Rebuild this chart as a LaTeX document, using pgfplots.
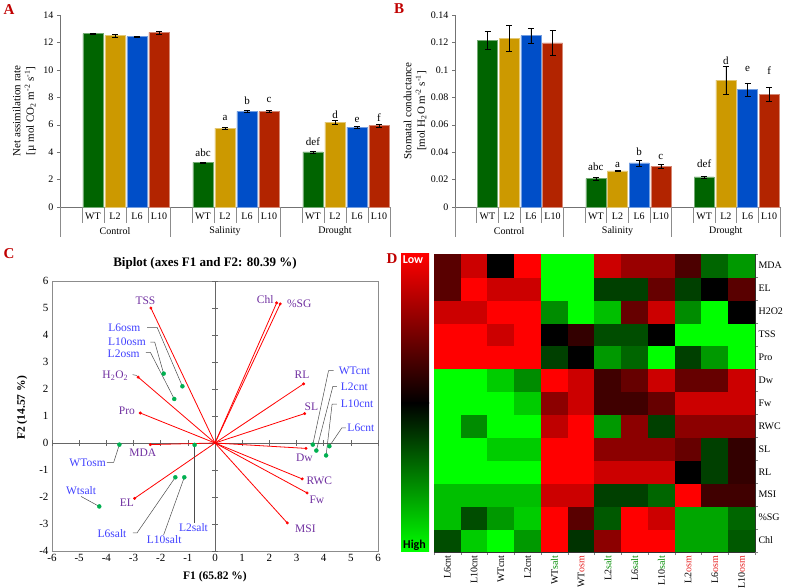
\documentclass[border=0pt]{standalone}
\usepackage{fontspec}
\setmainfont{Liberation Serif}
\newfontfamily\cbfont{Carlito}
\usepackage{pgfplots}
\usepackage{pgfplotstable}
\pgfplotsset{compat=1.18}

\definecolor{cwt}{RGB}{0,100,0}
\definecolor{cl2}{RGB}{204,153,0}
\definecolor{cl6}{RGB}{0,78,200}
\definecolor{cl10}{RGB}{178,36,0}
\definecolor{panel}{RGB}{192,0,0}
\definecolor{vpurple}{RGB}{112,48,160}
\definecolor{oblue}{RGB}{64,64,255}
\definecolor{ogreen}{RGB}{0,176,80}
\definecolor{lgreen}{RGB}{0,140,0}
\definecolor{lred}{RGB}{230,30,30}
\definecolor{hred}{RGB}{255,0,0}
\definecolor{hgreen}{RGB}{0,255,0}

\tikzset{
  lab/.style={font=\fontsize{10}{12}\selectfont, inner sep=0pt},
  let/.style={font=\fontsize{11}{13}\selectfont, inner sep=0pt},
  vl/.style={font=\fontsize{11.5}{13}\selectfont, text=vpurple, inner sep=0pt},
  ol/.style={font=\fontsize{11.5}{13}\selectfont, text=oblue, inner sep=0pt},
  ld/.style={black!70, line width=0.5pt},
  pl/.style={font=\bfseries\fontsize{15}{17}\selectfont, text=panel},
}

\pgfplotsset{
  barax/.style={scale only axis, anchor=south west, xmin=0, xmax=15,
    axis x line*=bottom, axis y line*=left, xtick=\empty,
    tick align=outside, major tick length=3pt,
    axis line style={black!55}, every tick/.append style={black!55},
    clip=false, tick label style={font=\fontsize{10}{12}\selectfont},
    /pgf/number format/assume math mode=true,
    ylabel style={align=center, font=\fontsize{11}{13.5}\selectfont, anchor=center}},
  gbar/.style={ybar, bar width=0.93, fill=#1, draw=#1!55!white, line width=0.5pt,
    error bars/y dir=both, error bars/y explicit,
    error bars/error bar style={black, line width=0.5pt},
    error bars/error mark options={rotate=90, black, mark size=3pt, line width=0.5pt}},
}

\newcommand\catlabels{%
  \pgfplotsinvokeforeach{1,2,3,4,6,7,8,9,11,12,13,14}{\draw[black!45] (axis cs:##1,0) -- ++(0pt,-16pt);}%
  \pgfplotsinvokeforeach{0,5,10,15}{\draw[black!45] (axis cs:##1,0) -- ++(0pt,-30pt);}%
  \pgfplotsinvokeforeach{1.5,6.5,11.5}{\node[lab] at ([yshift=-9.5pt]axis cs:##1,0) {WT};}%
  \pgfplotsinvokeforeach{2.5,7.5,12.5}{\node[lab] at ([yshift=-9.5pt]axis cs:##1,0) {L2};}%
  \pgfplotsinvokeforeach{3.5,8.5,13.5}{\node[lab] at ([yshift=-9.5pt]axis cs:##1,0) {L6};}%
  \pgfplotsinvokeforeach{4.5,9.5,14.5}{\node[lab] at ([yshift=-9.5pt]axis cs:##1,0) {L10};}%
  \node[lab] at ([yshift=-24pt]axis cs:2.5,0) {Control};%
  \node[lab] at ([yshift=-24pt]axis cs:7.5,0) {Salinity};%
  \node[lab] at ([yshift=-24pt]axis cs:12.5,0) {Drought};%
}

% biplot: variable vectors (F1, F2)
\pgfplotstableread{
fx fy
-2.36 5.00
2.27 5.19
2.40 5.15
-2.83 2.44
-2.75 1.11
-2.38 -0.06
-2.96 -2.05
3.26 2.19
3.30 1.09
3.35 -0.20
3.21 -1.33
3.39 -1.85
2.66 -2.96
}\vars

\begin{document}
\begin{tikzpicture}
\useasboundingbox (0pt,0pt) rectangle (787pt,588pt);

% ---------------- A ----------------
\begin{axis}[barax, at={(60pt,381pt)}, width=330pt, height=192pt,
  ymin=0, ymax=14, ytick={0,2,4,6,8,10,12,14},
  ylabel={Net assimilation rate\\{}[µ mol CO\textsubscript{2} m\textsuperscript{-2} s\textsuperscript{-1}]},
  ylabel style={at={(axis description cs:-0.1076,0.5)}}]
\addplot[gbar=cwt] coordinates {(1.5,12.65) +- (0,0.05) (6.5,3.25) +- (0,0.03) (11.5,4.02) +- (0,0.07)};
\addplot[gbar=cl2] coordinates {(2.5,12.50) +- (0,0.12) (7.5,5.75) +- (0,0.08) (12.5,6.18) +- (0,0.15)};
\addplot[gbar=cl6] coordinates {(3.5,12.42) +- (0,0.03) (8.5,6.98) +- (0,0.08) (13.5,5.82) +- (0,0.05)};
\addplot[gbar=cl10] coordinates {(4.5,12.73) +- (0,0.12) (9.5,6.96) +- (0,0.08) (14.5,5.94) +- (0,0.10)};
\node[let] at (axis cs:6.5,3.93) {abc};
\node[let] at (axis cs:7.5,6.48) {a};
\node[let] at (axis cs:8.5,7.77) {b};
\node[let] at (axis cs:9.5,7.77) {c};
\node[let] at (axis cs:11.5,4.78) {def};
\node[let] at (axis cs:12.5,6.72) {d};
\node[let] at (axis cs:13.5,6.36) {e};
\node[let] at (axis cs:14.5,6.48) {f};
\catlabels
\end{axis}

% ---------------- B ----------------
\begin{axis}[barax, at={(455pt,381pt)}, width=325pt, height=192pt,
  ymin=0, ymax=0.14, ytick={0,0.02,0.04,0.06,0.08,0.1,0.12,0.14},
  scaled y ticks=false,
  yticklabel style={/pgf/number format/fixed, /pgf/number format/precision=2},
  ylabel={Stomatal conductance\\{}[mol H\textsubscript{2}O m\textsuperscript{-2} s\textsuperscript{-1}]},
  ylabel style={at={(axis description cs:-0.123,0.5)}}]
\addplot[gbar=cwt] coordinates {(1.5,0.1213) +- (0,0.0066) (6.5,0.0207) +- (0,0.0010) (11.5,0.0219) +- (0,0.0007)};
\addplot[gbar=cl2] coordinates {(2.5,0.1232) +- (0,0.0094) (7.5,0.0263) +- (0,0.0004) (12.5,0.0925) +- (0,0.0100)};
\addplot[gbar=cl6] coordinates {(3.5,0.1249) +- (0,0.0056) (8.5,0.0321) +- (0,0.0022) (13.5,0.0857) +- (0,0.0048)};
\addplot[gbar=cl10] coordinates {(4.5,0.1196) +- (0,0.0093) (9.5,0.0297) +- (0,0.0017) (14.5,0.0820) +- (0,0.0050)};
\node[let] at (axis cs:6.5,0.0292) {abc};
\node[let] at (axis cs:7.5,0.0309) {a};
\node[let] at (axis cs:8.5,0.0402) {b};
\node[let] at (axis cs:9.5,0.0365) {c};
\node[let] at (axis cs:11.5,0.0317) {def};
\node[let] at (axis cs:12.5,0.107) {d};
\node[let] at (axis cs:13.5,0.101) {e};
\node[let] at (axis cs:14.5,0.0991) {f};
\catlabels
\end{axis}

% ---------------- C ----------------
\begin{axis}[at={(52pt,37pt)}, anchor=south west, scale only axis, width=326pt, height=270pt,
  xmin=-6, xmax=6, ymin=-4, ymax=6, xtick={-6,...,6}, ytick={-4,...,6},
  major tick length=0pt, axis line style={black!45}, clip=false,
  tick label style={font=\fontsize{11}{13}\selectfont},
  /pgf/number format/assume math mode=true,
  xlabel={F1 (65.82 \%)}, ylabel={F2 (14.57 \%)},
  label style={font=\bfseries\fontsize{11.5}{13}\selectfont},
  xlabel style={at={(axis description cs:0.5,0)}, anchor=center, yshift=-26pt},
  ylabel style={at={(axis description cs:-0.092,0.53)}, anchor=center}]
\draw[black!60] (axis cs:-6,0) -- (axis cs:6,0);
\draw[black!60] (axis cs:0,-4) -- (axis cs:0,6);
\pgfplotsinvokeforeach{-6,...,6}{\draw[black!60] ([yshift=-3pt]axis cs:#1,0) -- ([yshift=3pt]axis cs:#1,0);}
\pgfplotsinvokeforeach{-4,...,6}{\draw[black!60] ([xshift=-3pt]axis cs:0,#1) -- ([xshift=3pt]axis cs:0,#1);}
\addplot[red, line width=0.8pt, quiver={u=\thisrow{fx}, v=\thisrow{fy}}] table[x expr=0, y expr=0] {\vars};
\addplot[red, only marks, mark=*, mark size=1.3pt] table[x=fx, y=fy] {\vars};
\addplot[ogreen, only marks, mark=*, mark size=2pt] coordinates {
  (-1.20,2.10) (-1.89,2.57) (-1.50,1.63) (-3.52,-0.06) (-4.26,-2.35) (-1.46,-1.27)
  (-1.13,-1.27) (-0.75,-0.07) (3.60,-0.06) (3.73,-0.28) (4.21,-0.12) (4.09,-0.46)};
% leader lines
\draw[ld] (axis cs:-2.50,4.28) -- (axis cs:-2.13,4.28) -- (axis cs:-1.20,2.10);
\draw[ld] (axis cs:-2.38,3.74) -- (axis cs:-2.22,3.74) -- (axis cs:-1.89,2.57);
\draw[ld] (axis cs:-2.54,3.36) -- (axis cs:-2.38,3.36) -- (axis cs:-1.50,1.63);
\draw[ld] (axis cs:-3.03,2.53) -- (axis cs:-2.88,2.50);
\draw[ld] (axis cs:-3.98,-0.72) -- (axis cs:-3.73,-0.72) -- (axis cs:-3.52,-0.06);
\draw[ld] (axis cs:-4.93,-1.98) -- (axis cs:-4.26,-2.35);
\draw[ld] (axis cs:-3.02,-3.33) -- (axis cs:-2.87,-3.33) -- (axis cs:-1.46,-1.27);
\draw[ld] (axis cs:-1.89,-3.40) -- (axis cs:-1.13,-1.27);
\draw[ld] (axis cs:-0.75,-2.96) -- (axis cs:-0.75,-0.07);
\draw[ld] (axis cs:4.37,2.68) -- (axis cs:4.18,2.68) -- (axis cs:3.60,-0.06);
\draw[ld] (axis cs:4.49,2.10) -- (axis cs:4.34,2.10) -- (axis cs:3.73,-0.28);
\draw[ld] (axis cs:4.49,1.44) -- (axis cs:4.31,1.44) -- (axis cs:4.09,-0.46);
\draw[ld] (axis cs:4.82,0.56) -- (axis cs:4.67,0.56) -- (axis cs:4.21,-0.12);
% variable labels
\node[vl] at (axis cs:-2.56,5.25) {TSS};
\node[vl] at (axis cs:1.85,5.33) {Chl};
\node[vl] at (axis cs:3.10,5.16) {\%SG};
\node[vl] at (axis cs:-3.67,2.50) {H\textsubscript{2}O\textsubscript{2}};
\node[vl] at (axis cs:-3.24,1.21) {Pro};
\node[vl] at (axis cs:-2.66,-0.35) {MDA};
\node[vl] at (axis cs:-3.24,-2.22) {EL};
\node[vl] at (axis cs:3.20,2.51) {RL};
\node[vl] at (axis cs:3.55,1.33) {SL};
\node[vl] at (axis cs:3.29,-0.53) {Dw};
\node[vl] at (axis cs:3.84,-1.40) {RWC};
\node[vl] at (axis cs:3.75,-2.10) {Fw};
\node[vl] at (axis cs:3.33,-3.19) {MSI};
% observation labels
\node[ol] at (axis cs:-3.34,4.28) {L6osm};
\node[ol] at (axis cs:-3.24,3.76) {L10osm};
\node[ol] at (axis cs:-3.36,3.31) {L2osm};
\node[ol] at (axis cs:-4.69,-0.72) {WTosm};
\node[ol] at (axis cs:-4.93,-1.75) {Wtsalt};
\node[ol] at (axis cs:-3.79,-3.37) {L6salt};
\node[ol] at (axis cs:-1.87,-3.58) {L10salt};
\node[ol] at (axis cs:-0.79,-3.15) {L2salt};
\node[ol] at (axis cs:5.13,2.68) {WTcnt};
\node[ol] at (axis cs:5.13,2.10) {L2cnt};
\node[ol] at (axis cs:5.23,1.44) {L10cnt};
\node[ol] at (axis cs:5.37,0.58) {L6cnt};
\end{axis}
\node[font=\bfseries\fontsize{13}{15}\selectfont] at (205pt,325pt) {Biplot (axes F1 and F2: 80.39 \%)};

% ---------------- D ----------------
\shade[top color=hred, bottom color=black] (401pt,184.5pt) rectangle (429pt,334pt);
\shade[top color=black, bottom color=hgreen] (401pt,36pt) rectangle (429pt,185pt);
\begin{axis}[at={(434pt,36pt)}, anchor=south west, scale only axis, width=321pt, height=298pt,
  xmin=-0.5, xmax=11.5, ymin=-0.5, ymax=12.5, enlargelimits=false,
  axis x line*=bottom, axis y line*=right, axis line style={black!80},
  xtick={0,...,11}, ytick={0,...,12}, major tick length=0pt,
  minor xtick={-0.5,0.5,...,11.5}, minor ytick={-0.5,0.5,...,12.5},
  minor tick length=3pt, tick align=outside,
  xticklabels={L6cnt, L10cnt, WTcnt, L2cnt, WT\textcolor{lgreen}{salt}, WT\textcolor{lred}{osm},
    L2\textcolor{lgreen}{salt}, L6\textcolor{lgreen}{salt}, L10\textcolor{lgreen}{salt},
    L2\textcolor{lred}{osm}, L6\textcolor{lred}{osm}, L10\textcolor{lred}{osm}},
  yticklabels={Chl, \%SG, MSI, RL, SL, RWC, Fw, Dw, Pro, TSS, H2O2, EL, MDA},
  xticklabel style={rotate=90, anchor=east, font=\fontsize{10}{12}\selectfont},
  yticklabel style={font=\fontsize{10}{12}\selectfont},
  colormap={gbr}{rgb255=(0,255,0) rgb255=(0,0,0) rgb255=(255,0,0)},
  point meta min=-1, point meta max=1]
\addplot[matrix plot*, mesh/cols=12, point meta=explicit] coordinates {
(0,0)[-.3] (1,0)[-.8] (2,0)[-1] (3,0)[-.6] (4,0)[1] (5,0)[-.2] (6,0)[.55] (7,0)[1] (8,0)[1] (9,0)[-.65] (10,0)[-.65] (11,0)[-.35]
(0,1)[-.75] (1,1)[-.3] (2,1)[-.6] (3,1)[-.8] (4,1)[1] (5,1)[.35] (6,1)[-.35] (7,1)[1] (8,1)[.8] (9,1)[-.65] (10,1)[-.65] (11,1)[-.4]
(0,2)[-.75] (1,2)[-.75] (2,2)[-.75] (3,2)[-.75] (4,2)[.8] (5,2)[.8] (6,2)[-.25] (7,2)[-.25] (8,2)[-.4] (9,2)[1] (10,2)[.25] (11,2)[.25]
(0,3)[-1] (1,3)[-1] (2,3)[-1] (3,3)[-1] (4,3)[1] (5,3)[1] (6,3)[.8] (7,3)[.8] (8,3)[.8] (9,3)[0] (10,3)[-.25] (11,3)[.2]
(0,4)[-1] (1,4)[-1] (2,4)[-.8] (3,4)[-.8] (4,4)[1] (5,4)[1] (6,4)[.55] (7,4)[.55] (8,4)[.55] (9,4)[.4] (10,4)[-.25] (11,4)[.2]
(0,5)[-1] (1,5)[-.55] (2,5)[-1] (3,5)[-1] (4,5)[.75] (5,5)[1] (6,5)[-.6] (7,5)[.55] (8,5)[-.25] (9,5)[.55] (10,5)[.55] (11,5)[.55]
(0,6)[-1] (1,6)[-1] (2,6)[-1] (3,6)[-.8] (4,6)[.55] (5,6)[.8] (6,6)[.25] (7,6)[.25] (8,6)[.4] (9,6)[.8] (10,6)[.8] (11,6)[.8]
(0,7)[-1] (1,7)[-1] (2,7)[-.8] (3,7)[-.55] (4,7)[1] (5,7)[.8] (6,7)[.25] (7,7)[.4] (8,7)[.8] (9,7)[.4] (10,7)[.4] (11,7)[.8]
(0,8)[1] (1,8)[1] (2,8)[1] (3,8)[1] (4,8)[-.25] (5,8)[0] (6,8)[-.6] (7,8)[-.4] (8,8)[-1] (9,8)[-.25] (10,8)[-.6] (11,8)[-1]
(0,9)[1] (1,9)[1] (2,9)[.8] (3,9)[1] (4,9)[0] (5,9)[.2] (6,9)[-.3] (7,9)[-.3] (8,9)[0] (9,9)[-1] (10,9)[-1] (11,9)[-1]
(0,10)[.8] (1,10)[.8] (2,10)[1] (3,10)[1] (4,10)[-.55] (5,10)[-1] (6,10)[-.75] (7,10)[.4] (8,10)[.8] (9,10)[-.55] (10,10)[-1] (11,10)[0]
(0,11)[.35] (1,11)[1] (2,11)[.8] (3,11)[.8] (4,11)[-1] (5,11)[-1] (6,11)[-.25] (7,11)[-.25] (8,11)[.4] (9,11)[-.25] (10,11)[0] (11,11)[.35]
(0,12)[.35] (1,12)[.8] (2,12)[0] (3,12)[1] (4,12)[-1] (5,12)[-1] (6,12)[.8] (7,12)[.6] (8,12)[.6] (9,12)[.3] (10,12)[-.4] (11,12)[-.6]
};
\end{axis}
\node[font=\cbfont\bfseries\fontsize{12}{14}\selectfont, text=white] at (413pt,328pt) {Low};
\node[font=\cbfont\bfseries\fontsize{12}{14}\selectfont, text=black] at (414.5pt,43pt) {High};

% panel letters
\node[pl] at (9pt,578pt) {A};
\node[pl] at (399pt,579pt) {B};
\node[pl] at (9pt,334pt) {C};
\node[pl] at (392pt,329pt) {D};
\end{tikzpicture}
\end{document}
